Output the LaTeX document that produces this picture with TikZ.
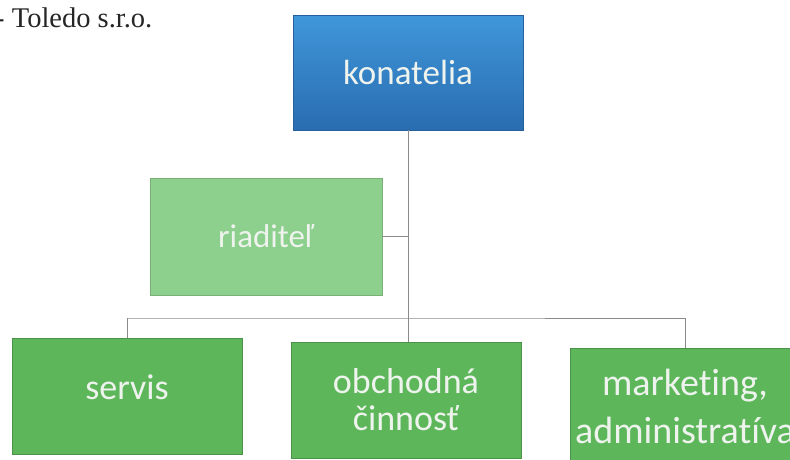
\documentclass[tikz,border=0pt]{standalone}
\usepackage{fontspec}
\setmainfont{Carlito}[Ligatures=NoCommon]
\newfontfamily\titlefont{Liberation Serif}
\definecolor{bluetop}{HTML}{3F97DA}
\definecolor{bluebot}{HTML}{2A6CB0}
\definecolor{lightgreen}{HTML}{8DCF8D}
\definecolor{midgreen}{HTML}{5DB75A}
\definecolor{linegray}{HTML}{8A8A8A}
\definecolor{txt}{HTML}{EEF3EE}
\tikzset{
  orgbox/.style={rectangle, inner sep=0pt, align=center, text=txt, minimum width=230pt, minimum height=116pt},
  topbox/.style={orgbox, top color=bluetop, bottom color=bluebot, draw=bluebot!90!black, line width=0.6pt},
  lgbox/.style={orgbox, fill=lightgreen, draw=lightgreen!85!black, line width=0.5pt},
  gbox/.style={orgbox, fill=midgreen, draw=midgreen!80!black, line width=0.6pt},
  conn/.style={draw=linegray, line width=1pt}
}
\begin{document}
\begin{tikzpicture}[x=1pt,y=-1pt]
\useasboundingbox (0,0) rectangle (790,459);
\fill[white] (0,0) rectangle (790,459);
% title
\node[anchor=base west, inner sep=0pt, text=black!85, font=\titlefont\fontsize{28.5}{32}\selectfont] (title) at (-5,27) {- Toledo s.r.o.};
% boxes
\node[topbox, minimum width=230pt, minimum height=115pt, font=\fontsize{35}{40}\selectfont] (kon) at (408,72.5) {konatelia};
\node[lgbox, minimum width=232pt, minimum height=117pt, font=\fontsize{33}{38}\selectfont] (riad) at (266,236.5) {riaditeľ};
\node[gbox, font=\fontsize{36}{40}\selectfont, text depth=18pt] (serv) at (127,396) {servis};
\node[gbox, font=\fontsize{36}{37}\selectfont] (obch) at (406,400) {obchodná\\činnosť};
\node[gbox, font=\fontsize{38}{48}\selectfont] (mark) at (685,406) {marketing,\\administratíva};
% connectors
\coordinate (bus) at (408,318);
\draw[conn] (kon.south) -- (kon.south |- obch.north);
\draw[conn] (riad.east) -- (riad.east -| kon.south);
\draw[conn] (serv.north |- bus) -- (bus) -- (mark.north |- bus);
\draw[conn] (serv.north |- bus) -- (serv.north);
\draw[conn] (mark.north |- bus) -- (mark.north);
\end{tikzpicture}
\end{document}
